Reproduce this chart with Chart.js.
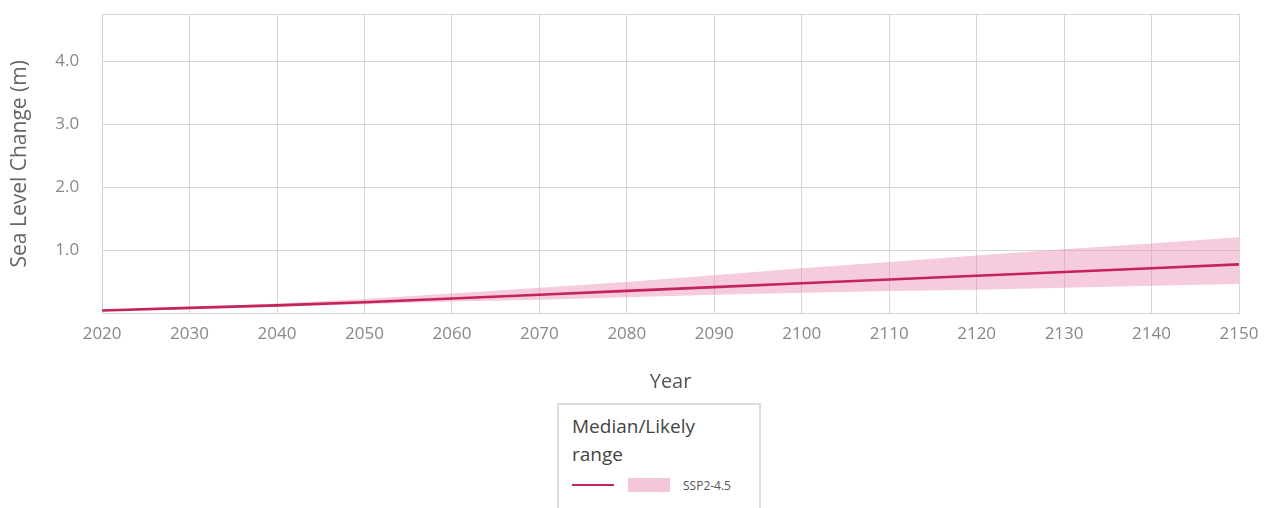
<!DOCTYPE html>
<html>
<head>
<meta charset="utf-8">
<script src="https://cdn.jsdelivr.net/npm/chart.js@4.4.1/dist/chart.umd.min.js"></script>
<style>
  body { margin: 0; background: #fff; font-family: "Open Sans", sans-serif; }
  #wrap { position: relative; width: 1264px; height: 508px; overflow: hidden; }
  #slrChart { position: absolute; left: 0; top: 0; }
  #legendBox {
    position: absolute; left: 557px; top: 403px; width: 204px; height: 120px;
    border: 2px solid #dcdcdc; background: #fff; box-sizing: border-box;
  }
  #legendTitle { position: absolute; left: 13px; top: 7px; font-size: 19px; line-height: 28px; color: #444; }
  #legendRow { position: absolute; left: 13px; top: 72px; height: 16px; display: flex; align-items: center; }
  .lineSw { width: 42px; height: 2px; background: #c8245f; }
  .fillSw { width: 42px; height: 14px; background: #f4c6da; margin-left: 14px; }
  .lbl { font-size: 12px; color: #555; margin-left: 13px; }
</style>
</head>
<body>
<div id="wrap">
  <canvas id="slrChart" width="1264" height="508"></canvas>
  <div id="legendBox">
    <div id="legendTitle">Median/Likely<br>range</div>
    <div id="legendRow"><div class="lineSw"></div><div class="fillSw"></div><div class="lbl">SSP2-4.5</div></div>
  </div>
</div>
<script>
const years = [2020, 2030, 2040, 2050, 2060, 2070, 2080, 2090, 2100, 2110, 2120, 2130, 2140, 2150];
const median = [0.05, 0.09, 0.13, 0.18, 0.24, 0.30, 0.36, 0.42, 0.48, 0.54, 0.60, 0.66, 0.72, 0.78];
const upper  = [0.06, 0.10, 0.16, 0.23, 0.32, 0.41, 0.50, 0.61, 0.72, 0.82, 0.92, 1.02, 1.11, 1.21];
const lower  = [0.04, 0.07, 0.11, 0.15, 0.19, 0.22, 0.26, 0.30, 0.33, 0.36, 0.38, 0.41, 0.44, 0.47];
const yTickLabels = [1, 2, 3, 4];

function pts(vals) {
    return years.map((yr, i) => ({x: yr, y: vals[i]}));
}

Chart.defaults.font.family = '"Open Sans", sans-serif';

let ctx = document.getElementById('slrChart').getContext('2d');
let slrChart = new Chart(ctx, {
    type: 'line',
    data: {
        datasets: [
            {
                label: 'Median',
                data: pts(median),
                borderColor: '#c4235c',
                borderWidth: 2.6,
                pointRadius: 0,
                fill: false,
                tension: 0
            },
            {
                label: 'Likely upper',
                data: pts(upper),
                borderWidth: 0,
                borderColor: 'rgba(0,0,0,0)',
                backgroundColor: 'rgba(232,130,175,0.42)',
                pointRadius: 0,
                fill: '+1'
            },
            {
                label: 'Likely lower',
                data: pts(lower),
                borderWidth: 0,
                borderColor: 'rgba(0,0,0,0)',
                pointRadius: 0,
                fill: false
            }
        ]
    },
    options: {
        responsive: false,
        animation: false,
        layout: { padding: { left: 7, right: 0, top: 14, bottom: 114 } },
        plugins: { legend: { display: false }, tooltip: { enabled: false } },
        scales: {
            x: {
                type: 'linear',
                min: 2020,
                max: 2150,
                afterFit: axis => { axis.paddingRight = 25; },
                grid: { color: '#d6d6d6', drawTicks: false },
                border: { color: '#d0d0d0' },
                ticks: {
                    stepSize: 10,
                    padding: 10,
                    color: '#888',
                    font: { size: 17 },
                    maxRotation: 0,
                    callback: v => String(v)
                },
                title: {
                    display: true,
                    text: 'Year',
                    color: '#555',
                    font: { size: 20 },
                    padding: { top: 16, bottom: 0 }
                }
            },
            xTop: {
                type: 'linear',
                position: 'top',
                min: 2020,
                max: 2150,
                grid: { display: false, drawTicks: false },
                border: { color: '#d6d6d6' },
                ticks: { display: false }
            },
            y: {
                min: 0,
                max: 4.75,
                afterBuildTicks: axis => {
                    axis.ticks = axis.ticks.filter(t => t.value <= 4);
                },
                afterFit: axis => { axis.paddingTop = 0; },
                grid: { color: '#d6d6d6', drawTicks: false },
                border: { color: '#d0d0d0' },
                ticks: {
                    stepSize: 1,
                    padding: 23,
                    color: '#888',
                    font: { size: 17 },
                    callback: v => yTickLabels.includes(v) ? v.toFixed(1) : ''
                },
                title: {
                    display: true,
                    text: 'Sea Level Change (m)',
                    color: '#666',
                    font: { size: 21 },
                    padding: { top: 0, bottom: 0 }
                }
            }
        }
    }
});
</script>
</body>
</html>
